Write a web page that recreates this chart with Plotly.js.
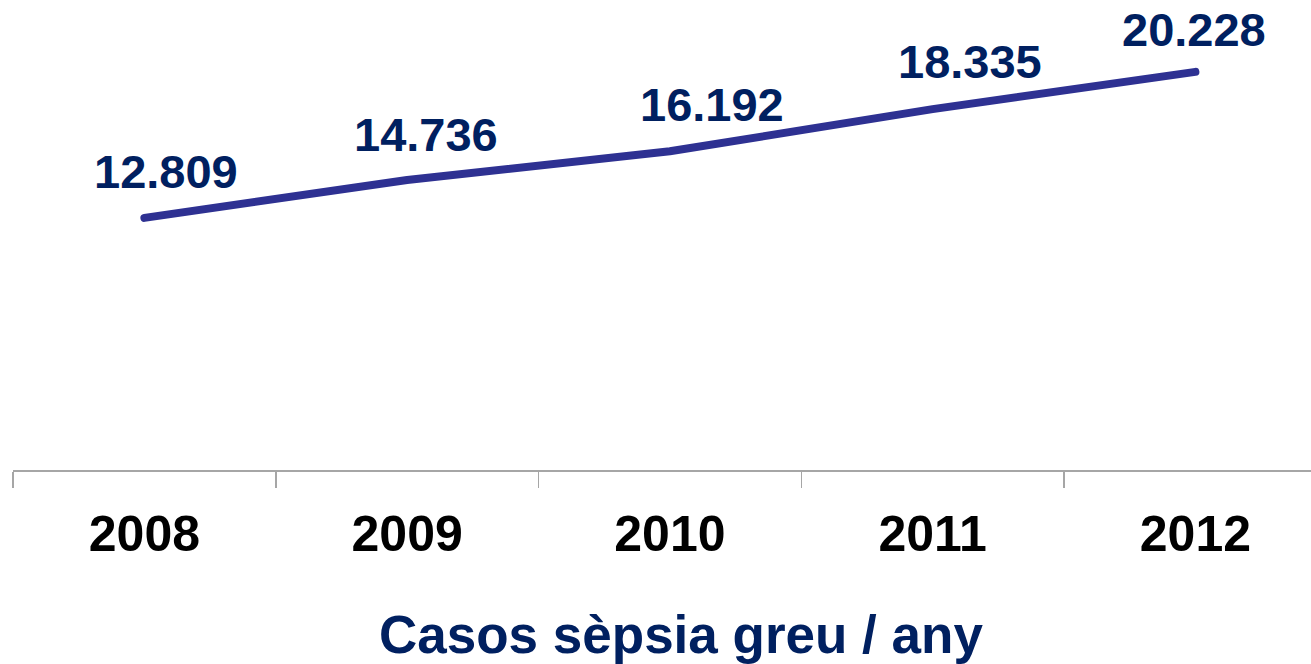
<!DOCTYPE html>
<html>
<head>
<meta charset="utf-8">
<script src="https://cdn.plot.ly/plotly-3.0.1.min.js"></script>
<style>
  html, body { margin: 0; padding: 0; background: #ffffff; }
  #chart { width: 1311px; height: 664px; }
  #chart .scatterlayer path.js-line { stroke-linecap: round; stroke-linejoin: round; }
</style>
</head>
<body>
<div id="chart"></div>
<script>
// ---- data ----
const years = ["2008", "2009", "2010", "2011", "2012"];
const cases = [12809, 14736, 16192, 18335, 20228];
const caseLabels = ["12.809", "14.736", "16.192", "18.335", "20.228"];
const chartTitle = "Casos sèpsia greu / any";

// label nudges (style only, pixels)
const labelDx = [22, 19, 42, 37, -1];
const labelDy = [46, 45, 47, 48, 42];

const FONT = "Liberation Sans, Arial, sans-serif";

const trace = {
  type: "scatter",
  mode: "lines",
  x: years,
  y: cases,
  line: { color: "#2e3192", width: 8, shape: "linear" },
  hoverinfo: "skip"
};

const annotations = years.map((yr, i) => ({
  x: i, y: cases[i], xref: "x", yref: "y",
  text: "<b>" + caseLabels[i] + "</b>",
  showarrow: false,
  xanchor: "center", yanchor: "middle",
  xshift: labelDx[i], yshift: labelDy[i],
  font: { family: FONT, size: 47, color: "#002060" }
}));

annotations.push({
  xref: "paper", yref: "paper",
  x: 0.515, y: -0.38,
  xanchor: "center", yanchor: "middle",
  text: "<b>" + chartTitle + "</b>",
  showarrow: false,
  font: { family: FONT, size: 53, color: "#002060" }
});

const layout = {
  width: 1311, height: 664,
  margin: { l: 13, r: 0, t: 37, b: 194, autoexpand: false },
  paper_bgcolor: "#ffffff", plot_bgcolor: "#ffffff",
  showlegend: false,
  xaxis: {
    type: "category",
    range: [-0.5, 4.44],
    showline: true, linecolor: "#a6a6a6", linewidth: 1.5,
    ticks: "outside", tickson: "boundaries", ticklen: 16,
    tickcolor: "#a6a6a6", tickwidth: 1.5,
    showgrid: false, zeroline: false,
    ticklabelstandoff: 19,
    tickfont: { family: FONT, size: 50, color: "#000000", weight: "bold" }
  },
  yaxis: {
    visible: false, range: [0, 22000],
    showgrid: false, zeroline: false
  },
  annotations: annotations
};

Plotly.newPlot("chart", [trace], layout, { displayModeBar: false, staticPlot: true });
</script>
</body>
</html>
